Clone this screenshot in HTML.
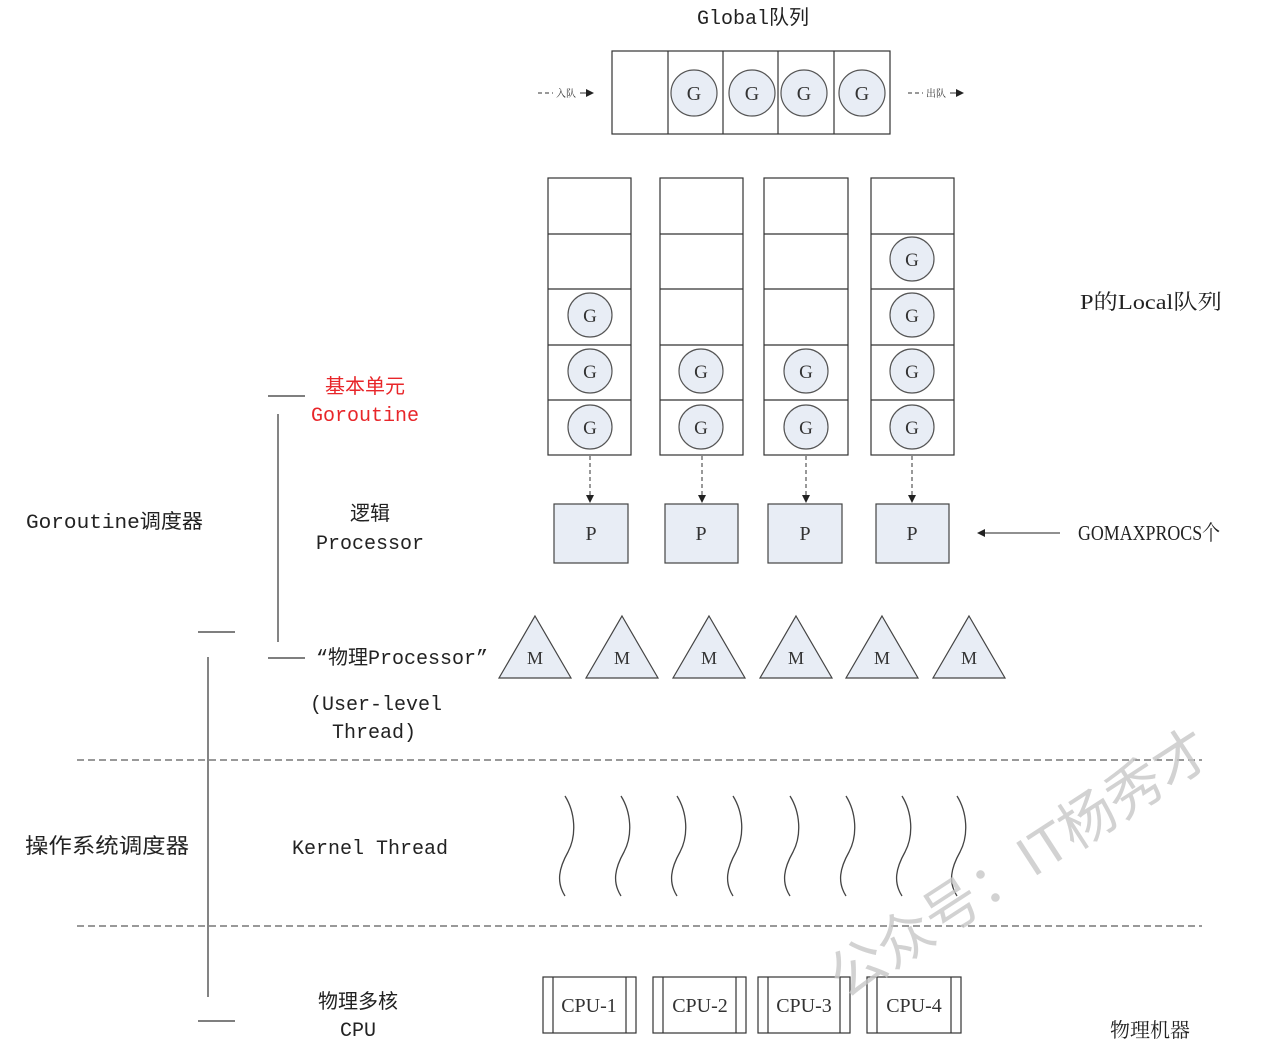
<!DOCTYPE html>
<html><head><meta charset="utf-8"><style>
html,body{margin:0;padding:0;background:#fff;}
svg{display:block;}
.m{font-family:"Liberation Mono","Noto Sans CJK SC",monospace;}
.s{font-family:"Liberation Serif","Noto Serif CJK SC",serif;}
</style></head><body>
<svg width="1280" height="1062" viewBox="0 0 1280 1062" xmlns="http://www.w3.org/2000/svg">
<defs>
<marker id="ah" markerWidth="8" markerHeight="8" refX="7" refY="4" orient="auto" markerUnits="userSpaceOnUse"><path d="M0,0 L8,4 L0,8 z" fill="#222"/></marker>
</defs>
<g stroke="#333" stroke-width="1.2" fill="none">
<rect x="612" y="51" width="278" height="83"/>
<line x1="668" y1="51" x2="668" y2="134"/><line x1="723" y1="51" x2="723" y2="134"/>
<line x1="778" y1="51" x2="778" y2="134"/><line x1="834" y1="51" x2="834" y2="134"/>
</g>
<g fill="#e8edf5" stroke="#555" stroke-width="1.2">
<circle cx="694" cy="93" r="23"/><circle cx="752" cy="93" r="23"/><circle cx="804" cy="93" r="23"/><circle cx="862" cy="93" r="23"/>
</g>
<g class="s" font-size="20" fill="#333" text-anchor="middle">
<text x="694" y="100">G</text><text x="752" y="100">G</text><text x="804" y="100">G</text><text x="862" y="100">G</text>
</g>
<g stroke="#333" stroke-width="1">
<line x1="538" y1="93" x2="553" y2="93" stroke-dasharray="4,3"/>
<line x1="580" y1="93" x2="593" y2="93" marker-end="url(#ah)"/>
<line x1="908" y1="93" x2="923" y2="93" stroke-dasharray="4,3"/>
<line x1="950" y1="93" x2="963" y2="93" marker-end="url(#ah)"/>
</g>
<text x="566" y="97" font-size="10" class="s" fill="#333" text-anchor="middle">入队</text>
<text x="936" y="97" font-size="10" class="s" fill="#333" text-anchor="middle">出队</text>
<text x="753" y="24" class="m" font-size="20" fill="#222" text-anchor="middle">Global队列</text>

<g stroke="#333" stroke-width="1.2" fill="none">
<rect x="548" y="178" width="83" height="277"/><rect x="660" y="178" width="83" height="277"/>
<rect x="764" y="178" width="84" height="277"/><rect x="871" y="178" width="83" height="277"/>
<path d="M548 234H631M548 289H631M548 345H631M548 400H631"/>
<path d="M660 234H743M660 289H743M660 345H743M660 400H743"/>
<path d="M764 234H848M764 289H848M764 345H848M764 400H848"/>
<path d="M871 234H954M871 289H954M871 345H954M871 400H954"/>
</g>
<g fill="#e8edf5" stroke="#555" stroke-width="1.2">
<circle cx="590" cy="315" r="22"/><circle cx="590" cy="371" r="22"/><circle cx="590" cy="427" r="22"/>
<circle cx="701" cy="371" r="22"/><circle cx="701" cy="427" r="22"/>
<circle cx="806" cy="371" r="22"/><circle cx="806" cy="427" r="22"/>
<circle cx="912" cy="259" r="22"/><circle cx="912" cy="315" r="22"/><circle cx="912" cy="371" r="22"/><circle cx="912" cy="427" r="22"/>
</g>
<g class="s" font-size="19" fill="#333" text-anchor="middle">
<text x="590" y="322">G</text><text x="590" y="378">G</text><text x="590" y="434">G</text>
<text x="701" y="378">G</text><text x="701" y="434">G</text>
<text x="806" y="378">G</text><text x="806" y="434">G</text>
<text x="912" y="266">G</text><text x="912" y="322">G</text><text x="912" y="378">G</text><text x="912" y="434">G</text>
</g>
<text x="1080" y="309" class="s" font-size="21" fill="#222" textLength="142" lengthAdjust="spacingAndGlyphs">P的Local队列</text>

<g stroke="#333" stroke-width="1" stroke-dasharray="4,3">
<line x1="590" y1="456" x2="590" y2="502" marker-end="url(#ah)"/>
<line x1="702" y1="456" x2="702" y2="502" marker-end="url(#ah)"/>
<line x1="806" y1="456" x2="806" y2="502" marker-end="url(#ah)"/>
<line x1="912" y1="456" x2="912" y2="502" marker-end="url(#ah)"/>
</g>
<g fill="#e8edf5" stroke="#444" stroke-width="1.2">
<rect x="554" y="504" width="74" height="59"/><rect x="665" y="504" width="73" height="59"/>
<rect x="768" y="504" width="74" height="59"/><rect x="876" y="504" width="73" height="59"/>
</g>
<g class="s" font-size="20" fill="#333" text-anchor="middle">
<text x="591" y="540">P</text><text x="701" y="540">P</text><text x="805" y="540">P</text><text x="912" y="540">P</text>
</g>
<line x1="1060" y1="533" x2="978" y2="533" stroke="#222" stroke-width="1" marker-end="url(#ah)"/>
<text x="1078" y="540" class="s" font-size="21" fill="#222" textLength="142" lengthAdjust="spacingAndGlyphs">GOMAXPROCS个</text>

<g fill="#e8edf5" stroke="#444" stroke-width="1.2">
<path d="M535 616L571 678H499Z"/><path d="M622 616L658 678H586Z"/><path d="M709 616L745 678H673Z"/>
<path d="M796 616L832 678H760Z"/><path d="M882 616L918 678H846Z"/><path d="M969 616L1005 678H933Z"/>
</g>
<g class="s" font-size="18" fill="#333" text-anchor="middle">
<text x="535" y="664">M</text><text x="622" y="664">M</text><text x="709" y="664">M</text>
<text x="796" y="664">M</text><text x="882" y="664">M</text><text x="969" y="664">M</text>
</g>

<g stroke="#333" stroke-width="1" stroke-dasharray="7,4">
<line x1="77" y1="760" x2="1202" y2="760"/><line x1="77" y1="926" x2="1202" y2="926"/>
</g>

<g stroke="#444" stroke-width="1.3" fill="none">
<path id="wv" d="M565 796 C575 812 577 835 568 852 C559 868 556 882 565 896"/>
<use href="#wv" x="56"/><use href="#wv" x="112"/><use href="#wv" x="168"/>
<use href="#wv" x="225"/><use href="#wv" x="281"/><use href="#wv" x="337"/><use href="#wv" x="392"/>
</g>

<g stroke="#333" stroke-width="1.2" fill="none">
<rect x="543" y="977" width="93" height="56"/><path d="M553 977V1033M626 977V1033"/>
<rect x="653" y="977" width="93" height="56"/><path d="M663 977V1033M736 977V1033"/>
<rect x="758" y="977" width="92" height="56"/><path d="M768 977V1033M840 977V1033"/>
<rect x="867" y="977" width="94" height="56"/><path d="M877 977V1033M951 977V1033"/>
</g>
<g class="s" font-size="20" fill="#333" text-anchor="middle">
<text x="589" y="1012">CPU-1</text><text x="700" y="1012">CPU-2</text><text x="804" y="1012">CPU-3</text><text x="914" y="1012">CPU-4</text>
</g>
<text x="1150" y="1037" class="s" font-size="20" fill="#222" text-anchor="middle">物理机器</text>

<g stroke="#333" stroke-width="1.2">
<line x1="268" y1="396" x2="305" y2="396"/><line x1="278" y1="414" x2="278" y2="642"/>
<line x1="268" y1="658" x2="305" y2="658"/>
<line x1="198" y1="632" x2="235" y2="632"/><line x1="208" y1="657" x2="208" y2="997"/>
<line x1="198" y1="1021" x2="235" y2="1021"/>
</g>
<g class="m" font-size="20" fill="#222">
<text x="365" y="393" text-anchor="middle" fill="#e8262a">基本单元</text>
<text x="365" y="421" text-anchor="middle" fill="#e8262a">Goroutine</text>
<text x="26" y="528" textLength="177" lengthAdjust="spacingAndGlyphs">Goroutine调度器</text>
<text x="370" y="520" text-anchor="middle">逻辑</text>
<text x="370" y="549" text-anchor="middle">Processor</text>
<text x="316" y="664">“物理Processor”</text>
<text x="310" y="710">(User-level</text>
<text x="332" y="738">Thread)</text>
<text x="25" y="853" font-size="21" textLength="164" lengthAdjust="spacingAndGlyphs">操作系统调度器</text>
<text x="292" y="854">Kernel Thread</text>
<text x="358" y="1008" text-anchor="middle">物理多核</text>
<text x="358" y="1036" text-anchor="middle">CPU</text>
</g>

<text x="845" y="1000" transform="rotate(-33 845 1000)" font-family="Liberation Sans,Noto Sans CJK SC,sans-serif" font-size="56" fill="#c8c8c8" opacity="0.8">公众号：IT杨秀才</text>
</svg>
</body></html>
